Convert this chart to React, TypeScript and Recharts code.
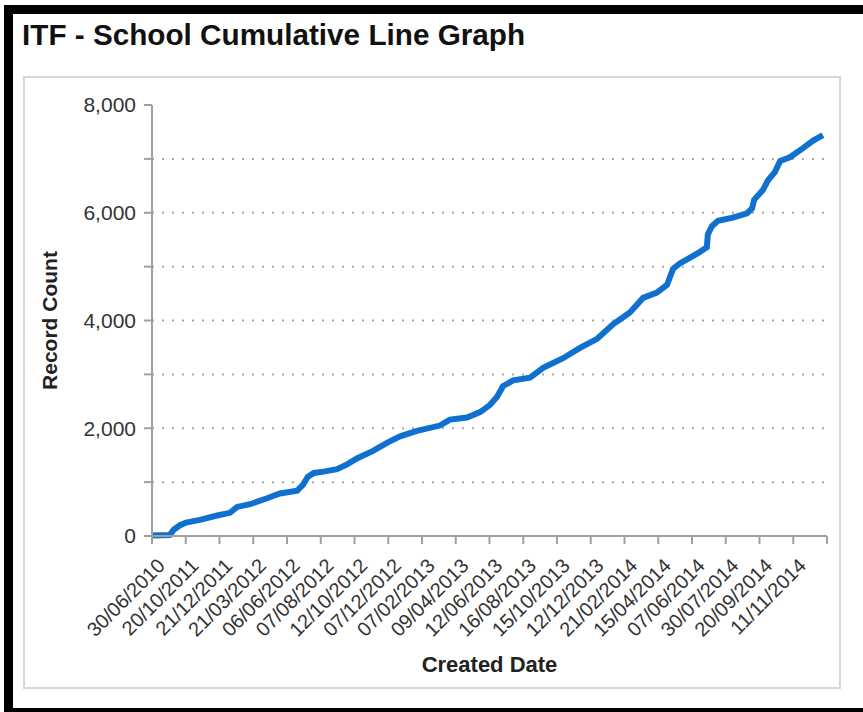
import { LineChart, Line, XAxis, YAxis, CartesianGrid, Label } from "recharts"

// x position is measured in tick slots (0 = 30/06/2010, 20 = last point)
const positions = [
  0, 0.53, 0.65, 0.83, 1.01, 1.42, 1.93, 2.31, 2.52, 2.9, 3.41, 3.79, 4.3, 4.47, 4.62, 4.8, 5.13, 5.48,
  5.78, 6.07, 6.55, 6.96, 7.35, 7.85, 8.53, 8.83, 9.33, 9.72, 10.01, 10.22, 10.4, 10.7, 11.2, 11.59,
  12.18, 12.68, 13.19, 13.66, 14.16, 14.55, 14.96, 15.26, 15.44, 15.64, 16.15, 16.44, 16.47, 16.59,
  16.77, 17.21, 17.63, 17.78, 17.84, 18.1, 18.25, 18.46, 18.61, 18.9, 19.29, 19.59, 19.88,
]
const recordCounts = [
  10, 20, 120, 200, 250, 300, 380, 430, 540, 590, 700, 790, 840, 950, 1100, 1170, 1200, 1240, 1330, 1440,
  1580, 1730, 1850, 1950, 2050, 2160, 2200, 2300, 2430, 2580, 2780, 2890, 2940, 3120, 3300, 3490, 3660,
  3930, 4150, 4420, 4520, 4660, 4960, 5060, 5240, 5360, 5600, 5750, 5850, 5910, 5990, 6080, 6240, 6420,
  6600, 6760, 6960, 7030, 7200, 7340, 7440,
]

const tickLabels = [
  "30/06/2010", "20/10/2011", "21/12/2011", "21/03/2012", "06/06/2012", "07/08/2012", "12/10/2012",
  "07/12/2012", "07/02/2013", "09/04/2013", "12/06/2013", "16/08/2013", "15/10/2013", "12/12/2013",
  "21/02/2014", "15/04/2014", "07/06/2014", "30/07/2014", "20/09/2014", "11/11/2014",
]
const xTicks = Array.from({ length: tickLabels.length + 1 }, (_, i) => i)
const yTicks = [0, 1000, 2000, 3000, 4000, 5000, 6000, 7000, 8000]
const gridValues = [1000, 2000, 3000, 4000, 5000, 6000, 7000]

const data = positions.map((pos, i) => ({ pos, count: recordCounts[i] }))

const FONT = '"Liberation Sans", Arial, sans-serif'

type TickProps = {
  x?: number
  y?: number
  payload?: { value: number }
}

function DateTick({ x = 0, y = 0, payload }: TickProps) {
  const label = payload ? tickLabels[payload.value] ?? "" : ""
  const ax = x + 14
  const ay = y + 21
  return (
    <text
      x={ax}
      y={ay}
      textAnchor="end"
      transform={`rotate(-45, ${ax}, ${ay})`}
      fontSize={20}
      fontFamily={FONT}
      fill="#333"
    >
      {label}
    </text>
  )
}

function formatCount(v: number): string {
  return v % 2000 === 0 ? v.toLocaleString("en-US") : ""
}

export default function App() {
  return (
    <div
      style={{
        position: "absolute",
        left: 0,
        top: 0,
        width: 863,
        height: 712,
        background: "#fff",
        overflow: "hidden",
        fontFamily: FONT,
      }}
    >
      <div
        style={{
          position: "absolute",
          left: 4,
          top: 5,
          width: 900,
          height: 712,
          boxSizing: "border-box",
          border: "9px solid #000",
        }}
      />
      <div
        style={{
          position: "absolute",
          left: 23,
          top: 76,
          width: 818,
          height: 613,
          boxSizing: "border-box",
          border: "2px solid #d6d6d6",
        }}
      />
      <div
        style={{
          position: "absolute",
          left: 22,
          top: 20,
          fontSize: 29.7,
          lineHeight: 1,
          fontWeight: "bold",
          color: "#111",
          whiteSpace: "nowrap",
        }}
      >
        ITF - School Cumulative Line Graph
      </div>
      <div style={{ position: "absolute", left: 0, top: 0 }}>
        <LineChart
          width={863}
          height={712}
          data={data}
          margin={{ top: 105, right: 36, left: 0, bottom: 0 }}
        >
          <CartesianGrid
            vertical={false}
            horizontalValues={gridValues}
            stroke="#a8a8a8"
            strokeWidth={2}
            strokeDasharray="2 8"
          />
          <XAxis
            dataKey="pos"
            type="number"
            domain={[0, 20]}
            ticks={xTicks}
            interval={0}
            height={176}
            tick={<DateTick />}
            tickSize={8}
            tickMargin={2}
            axisLine={{ stroke: "#a0a0a0", strokeWidth: 2 }}
            tickLine={{ stroke: "#a0a0a0", strokeWidth: 2 }}
          >
            <Label
              value="Created Date"
              position="insideBottom"
              offset={40}
              style={{ fontSize: 22, fontWeight: "bold", fill: "#222", fontFamily: FONT }}
            />
          </XAxis>
          <YAxis
            type="number"
            domain={[0, 8000]}
            ticks={yTicks}
            interval={0}
            width={152}
            tickSize={8}
            tickMargin={8}
            tickFormatter={formatCount}
            tick={{ fontSize: 21, fill: "#333", fontFamily: FONT }}
            axisLine={{ stroke: "#a0a0a0", strokeWidth: 2 }}
            tickLine={{ stroke: "#a0a0a0", strokeWidth: 2 }}
          >
            <Label
              value="Record Count"
              angle={-90}
              position="insideLeft"
              offset={50}
              style={{ textAnchor: "middle", fontSize: 21, fontWeight: "bold", fill: "#222", fontFamily: FONT }}
            />
          </YAxis>
          <Line
            type="linear"
            dataKey="count"
            stroke="#1070d0"
            strokeWidth={6}
            dot={false}
            isAnimationActive={false}
          />
        </LineChart>
      </div>
    </div>
  )
}
